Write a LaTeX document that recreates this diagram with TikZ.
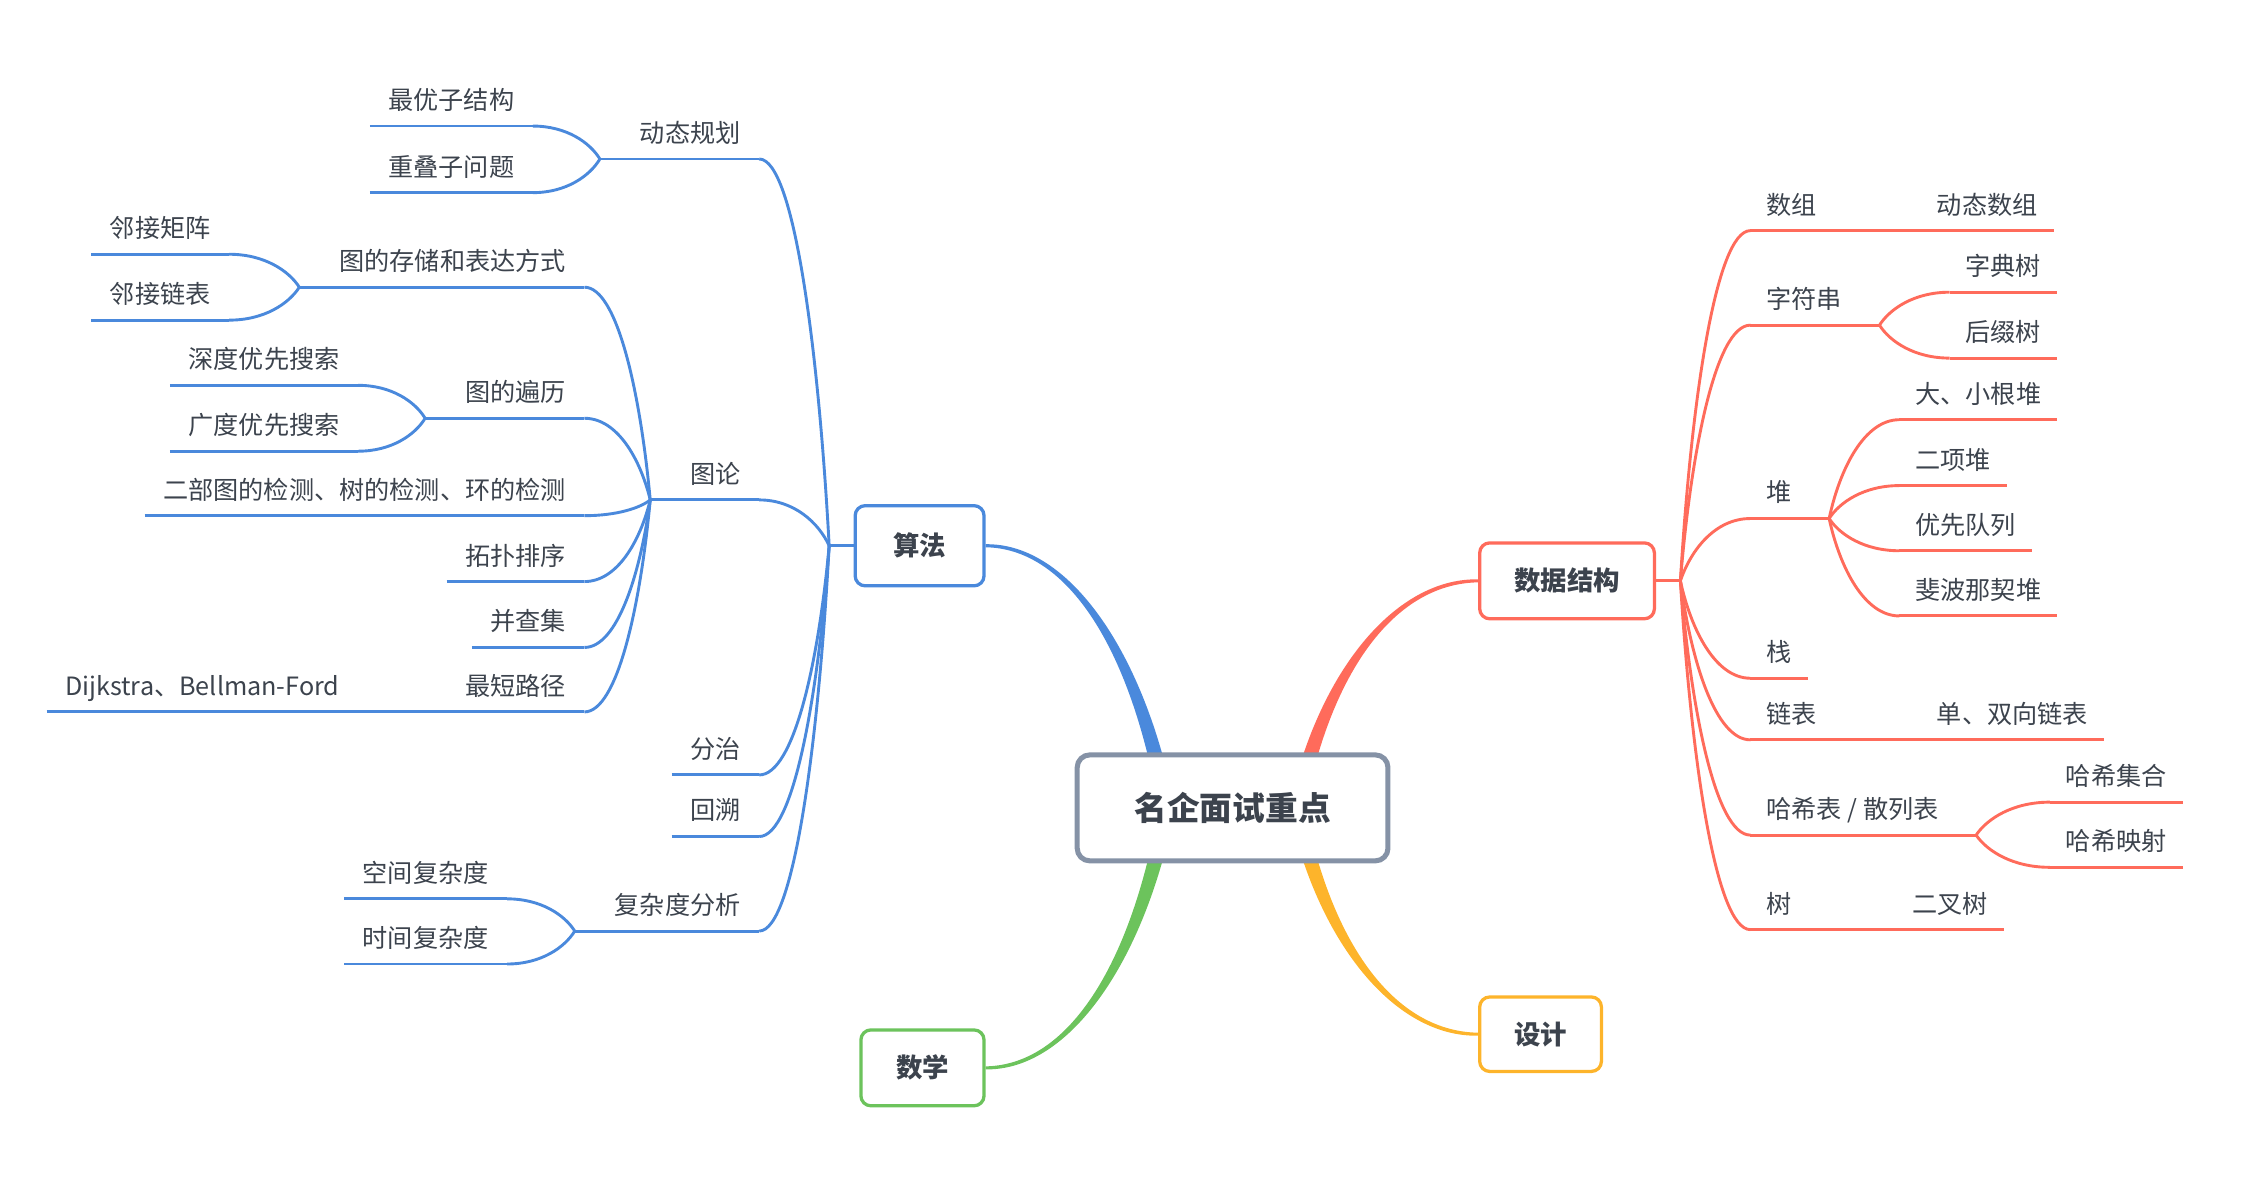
\documentclass[tikz,border=0pt]{standalone}
\usepackage{fontspec}
\setmainfont{Noto Sans CJK SC}
\usepackage{xcolor}
\usepackage{tikz}
\usetikzlibrary{calc, backgrounds}

\definecolor{algoblue}{HTML}{4A89DC}
\definecolor{dsred}{HTML}{FF6B5B}
\definecolor{mathgreen}{HTML}{6CC35C}
\definecolor{designorange}{HTML}{FDB42B}
\definecolor{rootgray}{HTML}{8592A6}
\definecolor{ink}{HTML}{3C434D}

% curved connector from a fork point to the near end of an underline
\newcommand{\twig}[2]{%
  \draw let \p1=(#1), \p2=(#2) in (\p1) .. controls (\x1+0.15*\x2-0.15*\x1, \y1+0.5*\y2-0.5*\y1) and (\x1+0.5*\x2-0.5*\x1, \y2) .. (\p2);}

% tapered main branch: colour, start, end, bend sign
\newcommand{\trunk}[4]{%
  \fill[#1] let \p1=(#2), \p2=(#3) in
    (\x1-3pt,\y1)
    .. controls (\x1+0.19*\x2-0.19*\x1-2.2pt, \y1+0.6*\y2-0.6*\y1) and (\x1+0.56*\x2-0.56*\x1, \y2+#4*1.1pt)
    .. (\x2,\y2+#4*0.6pt)
    -- (\x2,\y2-#4*0.6pt)
    .. controls (\x1+0.56*\x2-0.56*\x1, \y2-#4*1.1pt) and (\x1+0.19*\x2-0.19*\x1+2.2pt, \y1+0.6*\y2-0.6*\y1)
    .. (\x1+3pt,\y1) -- cycle;}

\begin{document}
\begin{tikzpicture}[
    x=0.02cm, y=-0.02cm,
    topic/.style={draw, rounded corners=4pt, line width=1.3pt, fill=white, text=ink, font=\fontsize{10.5}{12}\selectfont\bfseries, minimum height=1.06cm},
    rootbox/.style={draw=rootgray, rounded corners=5pt, line width=2pt, fill=white, text=ink, font=\fontsize{13}{15}\selectfont\bfseries, minimum width=4.34cm, minimum height=1.48cm},
    leaf/.style={text=ink, font=\fontsize{10}{12}\selectfont, inner ysep=4.5pt, text height=0.85em, text depth=0.15em},
    leafL/.style={leaf, inner xsep=6.8pt, anchor=south east},
    leafR/.style={leaf, inner xsep=5.8pt, anchor=south west},
    twigline/.style={line width=1.15pt},
]
\useasboundingbox (0,0) rectangle (1568,835);

% central and main topics
\node[rootbox] (root) at (860.5,564) {名企面试重点};
\node[topic, draw=algoblue, minimum width=1.8cm, minimum height=1.12cm] (algo) at (642,381) {算法};
\node[topic, draw=mathgreen, minimum width=1.72cm] (math) at (644,745.5) {数学};
\node[topic, draw=dsred, minimum width=2.44cm] (ds) at (1094,405.5) {数据结构};
\node[topic, draw=designorange, minimum width=1.7cm, minimum height=1.04cm] (design) at (1075.5,722) {设计};

\begin{scope}[on background layer]
\trunk{algoblue}{$(root.north)+(-52.5,8)$}{algo.east}{-1}
\trunk{dsred}{$(root.north)+(52.5,8)$}{ds.west}{1}
\trunk{mathgreen}{$(root.south)+(-52.5,-8)$}{math.east}{1}
\trunk{designorange}{$(root.south)+(52.5,-8)$}{design.west}{-1}
\end{scope}

% algorithm branch
\begin{scope}[algoblue, twigline]
\node[leafL] (dp) at (530,111) {动态规划};
\node[leafL] (graph) at (530,349) {图论};
\node[leafL] (divide) at (530,541) {分治};
\node[leafL] (backtrack) at (530,584) {回溯};
\node[leafL] (cplx) at (530,650) {复杂度分析};

\node[leafL] (optsub) at (372,88) {最优子结构};
\node[leafL] (overlap) at (372,134.5) {重叠子问题};
\node[leafL] (store) at (408,200.5) {图的存储和表达方式};
\node[leafL] (traverse) at (408,292) {图的遍历};
\node[leafL] (detect) at (408,360) {二部图的检测、树的检测、环的检测};
\node[leafL] (topo) at (408,406) {拓扑排序};
\node[leafL] (ufind) at (408,452) {并查集};
\node[leafL] (spath) at (408,497) {最短路径};
\node[leafL] (adjmat) at (160,177.5) {邻接矩阵};
\node[leafL] (adjlist) at (160,223.5) {邻接链表};
\node[leafL] (dfs) at (250,269) {深度优先搜索};
\node[leafL] (bfs) at (250,315) {广度优先搜索};
\node[leafL] (dijk) at (250,497) {Dijkstra、Bellman-Ford};
\node[leafL] (space) at (354,627.5) {空间复杂度};
\node[leafL] (time) at (354,673) {时间复杂度};

\coordinate (algo-f) at ($(algo.west)+(-17,0)$);
\draw (algo.west) -- (algo-f);
\foreach \u in {dp,graph,store,traverse,spath,cplx} {
    \coordinate (\u-f) at ($(\u.south west)+(-15,0)$);
    \draw (\u.south west) -- (\u-f);
}
\foreach \u in {dp,graph,divide,backtrack,cplx,optsub,overlap,store,traverse,detect,topo,ufind,spath,adjmat,adjlist,dfs,bfs,dijk,space,time}
    \draw (\u.south west) -- (\u.south east);
\foreach \u/\w in {algo/dp,algo/graph,algo/divide,algo/backtrack,algo/cplx,dp/optsub,dp/overlap,graph/store,graph/traverse,graph/detect,graph/topo,graph/ufind,graph/spath,store/adjmat,store/adjlist,traverse/dfs,traverse/bfs,spath/dijk,cplx/space,cplx/time} {
    \twig{\u-f}{\w.south east}
}
\end{scope}

% data structure branch
\begin{scope}[dsred, twigline]
\node[leafR] (arr) at (1222,161) {数组};
\node[leafR] (str) at (1222,227) {字符串};
\node[leafR] (heap) at (1222,362) {堆};
\node[leafR] (stack) at (1222,473.5) {栈};
\node[leafR] (llist) at (1222,516.5) {链表};
\node[leafR] (hash) at (1222,583) {哈希表 / 散列表};
\node[leafR] (tree) at (1222,649) {树};

\node[leafR] (dynarr) at (1341,161) {动态数组};
\node[leafR] (trie) at (1361,204) {字典树};
\node[leafR] (suffix) at (1361,250) {后缀树};
\node[leafR] (maxmin) at (1326,293) {大、小根堆};
\node[leafR] (binom) at (1326,339) {二项堆};
\node[leafR] (pq) at (1326,384.5) {优先队列};
\node[leafR] (fib) at (1326,430) {斐波那契堆};
\node[leafR] (dlist) at (1341,516.5) {单、双向链表};
\node[leafR] (hset) at (1431,560) {哈希集合};
\node[leafR] (hmap) at (1431,605.5) {哈希映射};
\node[leafR] (btree) at (1324,649) {二叉树};

\coordinate (ds-f) at ($(ds.east)+(17,0)$);
\draw (ds.east) -- (ds-f);
\foreach \u in {arr,str,heap,llist,hash,tree} {
    \coordinate (\u-f) at ($(\u.south east)+(15,0)$);
    \draw (\u.south east) -- (\u-f);
}
\foreach \u in {arr,str,heap,stack,llist,hash,tree,dynarr,trie,suffix,maxmin,binom,pq,fib,dlist,hset,hmap,btree}
    \draw (\u.south west) -- (\u.south east);
\foreach \u/\w in {ds/arr,ds/str,ds/heap,ds/stack,ds/llist,ds/hash,ds/tree,arr/dynarr,str/trie,str/suffix,heap/maxmin,heap/binom,heap/pq,heap/fib,llist/dlist,hash/hset,hash/hmap,tree/btree} {
    \twig{\u-f}{\w.south west}
}
\end{scope}

\end{tikzpicture}
\end{document}
